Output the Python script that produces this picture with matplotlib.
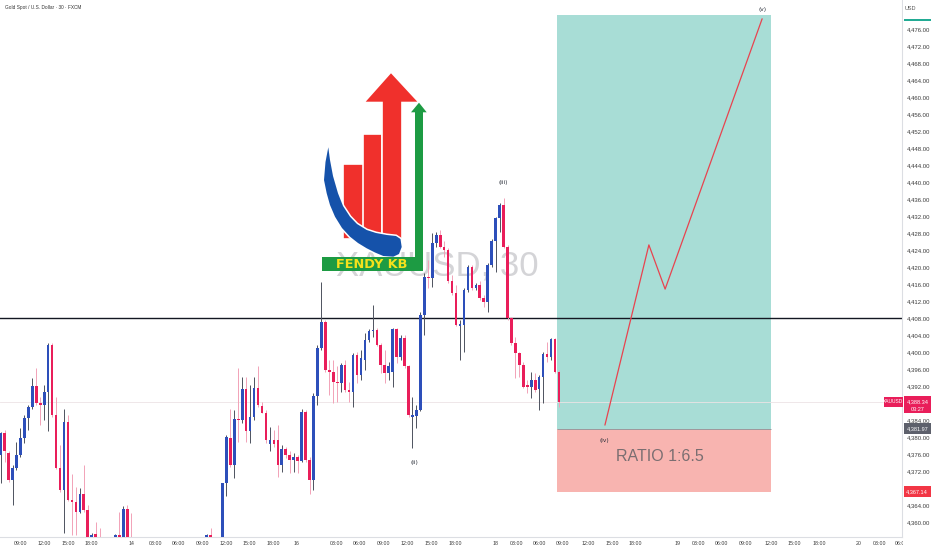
import matplotlib
matplotlib.use('Agg')
import matplotlib.pyplot as plt
import numpy as np
from matplotlib.patches import Polygon, Rectangle
from matplotlib import font_manager

names = {f.name for f in font_manager.fontManager.ttflist}
HAS_NARROW = 'Liberation Sans Narrow' in names
LSANS = 'Liberation Sans' if 'Liberation Sans' in names else 'DejaVu Sans'
NARROW = 'Liberation Sans Narrow' if HAS_NARROW else LSANS

# ---------------- data (XAUUSD 30m, FXCM) ----------------
opens = [4375.8, 4380.9, 4376.2, 4369.9, 4372.6, 4375.8, 4379.7, 4384.4, 4387.0, 4392.0,
         4387.9, 4387.5, 4390.7, 4401.6, 4385.2, 4372.6, 4367.5, 4383.6, 4365.2, 4364.8,
         4362.4, 4366.7, 4362.8, 4354.0, 4357.1, 4354.5, 4352.5, 4350.0, 4352.0, 4353.5,
         4357.0, 4354.0, 4363.0, 4355.0, 4352.0, 4348.0, 4345.0, 4347.0, 4350.0, 4348.0,
         4344.0, 4346.0, 4349.0, 4351.0, 4348.0, 4350.0, 4352.0, 4349.0, 4351.0, 4353.0,
         4350.0, 4352.0, 4354.0, 4356.9, 4355.5, 4351.0, 4353.0, 4369.1, 4379.7, 4373.4,
         4384.2, 4384.0, 4391.2, 4381.3, 4384.8, 4391.5, 4387.3, 4385.7, 4378.4, 4379.3,
         4379.3, 4373.4, 4377.2, 4375.8, 4374.6, 4375.4, 4374.4, 4385.8, 4374.6, 4369.9,
         4389.6, 4400.9, 4407.0, 4395.8, 4395.2, 4393.0, 4392.8, 4396.9, 4391.1, 4390.7,
         4399.3, 4394.6, 4398.1, 4402.8, 4404.9, 4405.2, 4401.7, 4396.9, 4395.0, 4395.4,
         4405.3, 4398.9, 4403.2, 4396.6, 4384.8, 4385.0, 4386.4, 4408.7, 4417.7, 4417.3,
         4425.6, 4427.5, 4424.8, 4424.0, 4416.6, 4413.8, 4406.1, 4406.4, 4414.6, 4420.1,
         4415.0, 4415.8, 4412.6, 4411.8, 4420.5, 4426.0, 4431.5, 4434.6, 4424.8, 4407.9,
         4402.2, 4399.7, 4396.9, 4392.2, 4391.8, 4393.4, 4391.2, 4394.2, 4399.5, 4398.8,
         4403.0, 4395.4]
highs = [4381.2, 4381.6, 4376.6, 4373.4, 4378.9, 4382.0, 4385.2, 4387.5, 4393.8, 4396.2,
         4389.5, 4392.2, 4402.0, 4402.0, 4389.5, 4378.1, 4386.7, 4385.2, 4371.4, 4368.3,
         4367.9, 4373.4, 4364.0, 4357.3, 4360.1, 4358.5, 4355.5, 4354.0, 4355.8, 4357.2,
         4362.4, 4363.8, 4364.0, 4362.0, 4355.0, 4351.0, 4349.0, 4352.0, 4354.0, 4351.0,
         4348.0, 4350.0, 4353.0, 4354.0, 4352.0, 4353.0, 4355.0, 4353.0, 4354.0, 4355.5,
         4354.0, 4355.5, 4357.2, 4358.6, 4356.2, 4355.0, 4369.2, 4380.5, 4386.7, 4386.4,
         4396.2, 4394.2, 4394.2, 4392.2, 4394.2, 4396.6, 4388.3, 4386.4, 4382.4, 4381.6,
         4382.8, 4378.1, 4377.7, 4376.6, 4376.2, 4375.8, 4386.7, 4386.4, 4375.4, 4390.4,
         4401.6, 4416.5, 4407.5, 4398.1, 4398.1, 4396.6, 4397.3, 4398.1, 4393.0, 4399.7,
         4400.1, 4400.5, 4404.4, 4405.3, 4411.1, 4405.6, 4402.0, 4400.5, 4397.7, 4405.6,
         4405.6, 4404.0, 4404.0, 4396.9, 4389.5, 4387.5, 4409.5, 4418.5, 4421.7, 4427.9,
         4428.3, 4428.7, 4426.0, 4424.4, 4418.1, 4415.8, 4407.5, 4415.0, 4420.5, 4420.5,
         4416.2, 4416.6, 4413.4, 4420.9, 4426.7, 4431.8, 4435.0, 4436.2, 4425.2, 4408.3,
         4403.6, 4400.1, 4397.7, 4393.4, 4395.4, 4395.0, 4394.6, 4400.1, 4402.4, 4403.2,
         4403.2, 4395.8]
lows = [4369.1, 4374.2, 4369.5, 4364.0, 4372.2, 4375.4, 4378.5, 4381.6, 4386.7, 4387.5,
        4382.8, 4384.0, 4381.3, 4384.8, 4372.4, 4367.1, 4357.3, 4365.0, 4356.9, 4356.9,
        4362.0, 4362.4, 4352.0, 4351.5, 4352.0, 4350.0, 4348.0, 4346.0, 4349.0, 4350.0,
        4352.0, 4351.0, 4352.0, 4350.0, 4346.0, 4343.0, 4341.0, 4344.0, 4346.0, 4342.0,
        4340.0, 4343.0, 4346.0, 4347.0, 4345.0, 4347.0, 4348.0, 4346.0, 4348.0, 4349.0,
        4347.0, 4349.0, 4351.0, 4352.0, 4349.0, 4348.0, 4350.0, 4366.0, 4373.0, 4370.3,
        4378.9, 4383.2, 4378.9, 4378.5, 4384.0, 4387.1, 4385.6, 4378.5, 4376.6, 4377.7,
        4370.7, 4371.8, 4375.0, 4371.5, 4371.8, 4371.5, 4374.2, 4374.2, 4366.7, 4367.5,
        4387.5, 4400.5, 4395.4, 4389.9, 4387.9, 4388.3, 4390.7, 4390.7, 4388.3, 4387.1,
        4392.6, 4393.4, 4395.8, 4402.4, 4403.6, 4401.3, 4395.0, 4392.6, 4393.4, 4391.8,
        4397.3, 4398.1, 4396.2, 4384.8, 4377.3, 4382.0, 4386.0, 4404.0, 4415.0, 4415.4,
        4424.8, 4424.4, 4422.4, 4416.2, 4413.4, 4406.0, 4398.1, 4400.1, 4414.2, 4414.6,
        4414.6, 4412.2, 4410.7, 4409.5, 4420.1, 4418.9, 4428.3, 4424.4, 4407.5, 4401.7,
        4393.8, 4394.2, 4391.5, 4390.3, 4389.1, 4390.7, 4386.4, 4387.9, 4397.7, 4398.1,
        4395.0, 4387.1]
closes = [4380.9, 4376.6, 4369.9, 4372.6, 4375.8, 4379.7, 4384.4, 4387.0, 4392.0, 4387.9,
          4387.5, 4390.7, 4401.6, 4385.2, 4372.6, 4367.5, 4383.6, 4365.2, 4364.8, 4362.4,
          4366.7, 4362.8, 4354.0, 4357.0, 4354.5, 4352.5, 4350.0, 4352.0, 4353.5, 4357.0,
          4354.0, 4363.0, 4355.0, 4352.0, 4348.0, 4345.0, 4347.0, 4350.0, 4348.0, 4344.0,
          4346.0, 4349.0, 4351.0, 4348.0, 4350.0, 4352.0, 4349.0, 4351.0, 4353.0, 4350.0,
          4352.0, 4354.0, 4356.9, 4355.5, 4351.0, 4353.0, 4369.1, 4380.1, 4373.4, 4384.2,
          4384.0, 4391.2, 4381.3, 4384.8, 4391.5, 4387.5, 4385.7, 4379.3, 4379.3, 4378.4,
          4373.4, 4377.2, 4375.8, 4374.6, 4375.4, 4374.4, 4385.8, 4374.6, 4369.9, 4389.6,
          4400.9, 4407.0, 4395.8, 4395.4, 4392.9, 4392.6, 4396.9, 4391.1, 4390.7, 4399.3,
          4394.6, 4398.5, 4402.8, 4404.9, 4405.2, 4401.7, 4396.9, 4395.0, 4396.6, 4405.3,
          4398.9, 4403.2, 4396.6, 4385.2, 4385.2, 4386.4, 4408.7, 4417.7, 4417.3, 4425.6,
          4427.5, 4424.8, 4424.0, 4416.6, 4413.8, 4406.4, 4406.5, 4414.6, 4420.1, 4415.0,
          4415.8, 4412.6, 4411.8, 4420.5, 4426.0, 4431.5, 4434.6, 4424.8, 4407.9, 4402.0,
          4399.7, 4396.9, 4391.8, 4391.7, 4393.4, 4391.1, 4394.2, 4399.5, 4398.9, 4403.0,
          4395.4, 4388.34]

time_tick_pos = [4.9, 10.95, 17.0, 22.8, 32.9, 39.0, 44.8, 50.9, 56.9, 62.7, 68.8, 74.6,
                 84.7, 90.5, 96.6, 102.6, 108.7, 114.7, 124.8, 130.1, 135.9, 141.8, 148.3,
                 154.4, 160.2, 170.8, 176.1, 181.9, 188.0, 194.3, 200.1, 206.4, 216.5,
                 221.6, 227.1]
time_tick_labels = ['09:00', '12:00', '15:00', '18:00', '14', '03:00', '06:00', '09:00',
                    '12:00', '15:00', '18:00', '16', '03:00', '06:00', '09:00', '12:00',
                    '15:00', '18:00', '18', '03:00', '06:00', '09:00', '12:00', '15:00',
                    '18:00', '19', '03:00', '06:00', '09:00', '12:00', '15:00', '18:00',
                    '20', '03:00', '06:00']
price_ticks = list(range(4360, 4477, 4))

key_level = 4408.0
last_price = 4388.34
countdown = '03:27'
entry_price = 4381.97
target_price = 4479.29
stop_price = 4367.14
box_start = 140.57
box_end = 194.46
ratio_text = 'RATIO 1:6.5'

path_x = [152.6, 163.7, 167.8, 192.3]
path_y = [4382.8, 4425.2, 4414.8, 4478.4]

wave_labels = ['(ii)', '(iii)', '(iv)', '(v)']
wave_x = [104.4, 126.9, 152.4, 192.3]
wave_y = [4373.9, 4439.8, 4379.1, 4480.5]

UP = '#2d4fba'
DOWN = '#e91e5a'
UP_WICK = '#4d525e'
DOWN_WICK = '#f2a2b7'

# ---------------- figure ----------------
W, H = 932, 550
fig = plt.figure(figsize=(W / 100, H / 100), dpi=100)
fig.patch.set_facecolor('white')
ax = fig.add_axes([0, 13 / H, 902 / W, 537 / H])
ax.set_facecolor('white')
ax.set_xlim(-0.162, 227.62)
ax.set_ylim(4356.47, 4482.82)

o = np.array(opens); h = np.array(highs); l = np.array(lows); c = np.array(closes)
idx = np.arange(len(o))
up = c >= o
body_col = np.where(up, UP, DOWN)
wick_col = np.where(up, UP_WICK, DOWN_WICK)
ax.vlines(idx, l, h, colors=wick_col, lw=0.7, zorder=3)
ax.bar(idx, np.maximum(np.abs(c - o), 0.3), bottom=np.minimum(o, c), width=0.66,
       color=body_col, lw=0, zorder=4)

# watermark
wm_fs = 30 if HAS_NARROW else 25
ax.text(110.2, 4420.2, 'XAUUSD, 30', fontsize=wm_fs, color='#d4d4d7', family=NARROW,
        ha='center', va='center', zorder=0.5)

# position tool
ax.add_patch(Rectangle((box_start, entry_price), box_end - box_start, target_price - entry_price,
                       facecolor='#a8ddd6', edgecolor='none', zorder=1))
ax.add_patch(Rectangle((box_start, stop_price), box_end - box_start, entry_price - stop_price,
                       facecolor='#f8b4b0', edgecolor='none', zorder=1))
ax.hlines(entry_price, box_start, box_end, color='#8e9399', lw=0.6, zorder=1.2)

ax.axhline(last_price, color='#ece3e5', lw=0.6, zorder=1.5)
ax.axhline(key_level, color='#131722', lw=1.0, zorder=2.5)

ax.plot(path_x, path_y, color='#e8434f', lw=0.9, zorder=5, solid_capstyle='round')
for t, x, y in zip(wave_labels, wave_x, wave_y):
    ax.text(x, y, t, fontsize=4.2, color='#2a2e39', ha='center', va='center', zorder=6)

r_fs = 14 if HAS_NARROW else 11.5
ax.text(166.6, 4375.3, ratio_text, fontsize=r_fs, family=NARROW, color='#7a6e71',
        ha='center', va='center', zorder=6)

# axes styling
for s in ['top', 'left']:
    ax.spines[s].set_visible(False)
for s in ['right', 'bottom']:
    ax.spines[s].set_color('#dcdee3')
    ax.spines[s].set_linewidth(0.8)
ax.set_xticks([])
ax.yaxis.tick_right()
ax.set_yticks(price_ticks)
ax.set_yticklabels([f'{v:,.2f}' for v in price_ticks])
ax.tick_params(axis='y', length=0, pad=3.2, labelsize=4.3, labelcolor='#3a3a3a')
for lab in ax.get_yticklabels():
    lab.set_family(LSANS)

# time axis strip
axt = fig.add_axes([0, 0, 903 / W, 13 / H])
axt.set_xlim(ax.get_xlim()); axt.set_ylim(0, 1)
axt.set_axis_off()
for p, t in zip(time_tick_pos, time_tick_labels):
    axt.text(p, 0.5, t, fontsize=3.8, family=LSANS, color='#3a3a3a', ha='center',
             va='center', clip_on=True)

# overlay in pixel coords (logo, tags)
lg = fig.add_axes([0, 0, 1, 1])
lg.set_xlim(0, W); lg.set_ylim(H, 0)
lg.set_axis_off()
lg.patch.set_visible(False)
lg.set_zorder(3)

def py(price):
    return H - ax.transData.transform((0, price))[1]

def tag(price, text, color, x0=904, x1=930.5, hh=5.6, z=10):
    y = py(price)
    lg.add_patch(Rectangle((x0, y - hh), x1 - x0, 2 * hh, facecolor=color, edgecolor='none', zorder=z))
    lg.text((x0 + x1) / 2, y + 0.3, text, fontsize=4.0, family=LSANS, color='white',
            ha='center', va='center', zorder=z + 1)

tag(target_price, f'{target_price:,.2f}', '#22ab94')
lg.add_patch(Rectangle((903, 0), 29, 19, facecolor='white', edgecolor='none', zorder=12))
lg.text(905, 9, 'USD', fontsize=4.0, family=LSANS, color='#555555', ha='left', va='center', zorder=13)

yl = py(last_price)
lg.add_patch(Rectangle((904, yl - 5.6), 27, 17.5, facecolor=DOWN, edgecolor='none', zorder=10))
lg.text(917.5, yl + 0.3, f'{last_price:,.2f}', fontsize=4.0, family=LSANS, color='white',
        ha='center', va='center', zorder=11)
lg.text(917.5, yl + 7.6, countdown, fontsize=4.0, family=LSANS, color='white',
        ha='center', va='center', zorder=11)
lg.add_patch(Rectangle((884, yl - 5.0), 18.5, 10.5, facecolor=DOWN, edgecolor='none', zorder=10))
lg.text(893.2, yl + 0.3, 'XAUUSD', fontsize=3.5, family=LSANS, color='white',
        ha='center', va='center', zorder=11)
tag(entry_price, f'{entry_price:,.2f}', '#5d606b')
tag(stop_price, f'{stop_price:,.2f}', '#f23645')

# logo
RED = '#f0302c'; BLUE = '#1552aa'; GREEN = '#1d9b43'
lg.add_patch(Rectangle((343.3, 164.3), 21.5, 75, facecolor=RED, edgecolor='white', lw=1.2, zorder=4))
lg.add_patch(Rectangle((362.7, 134), 19.5, 110, facecolor=RED, edgecolor='white', lw=1.2, zorder=4.1))
lg.add_patch(Rectangle((381.7, 100), 20, 150, facecolor=RED, edgecolor='white', lw=1.2, zorder=4.2))
lg.add_patch(Polygon([(391, 73.3), (365.7, 101.7), (417.3, 101.7)], closed=True,
                     facecolor=RED, edgecolor='none', zorder=4.3))
cres = [(328.3, 147.3), (325.5, 162), (324, 180), (326.7, 193.3), (330, 205), (335, 216.7),
        (342, 228), (350, 236.7), (358, 243), (366.7, 248.3), (375, 252.5), (383.3, 256),
        (393.3, 256.7), (399, 254), (401.7, 247), (400.5, 239), (396, 236), (386.7, 235),
        (376, 233), (366.7, 230), (357, 224), (350, 216.7), (343, 206), (338, 193.3),
        (333, 176), (330, 160)]
lg.add_patch(Polygon(cres, closed=True, facecolor=BLUE, edgecolor='white', lw=2.2, zorder=4.5))
lg.add_patch(Polygon(cres, closed=True, facecolor=BLUE, edgecolor='none', zorder=4.6))
# white strip below crescent to trim bars
lg.add_patch(Rectangle((415, 111), 7.7, 160, facecolor=GREEN, edgecolor='none', zorder=4.7))
lg.add_patch(Polygon([(419, 102.7), (411, 112.3), (426.7, 112.3)], closed=True,
                     facecolor=GREEN, edgecolor='none', zorder=4.7))
lg.add_patch(Rectangle((321.7, 256.7), 101.6, 14, facecolor=GREEN, edgecolor='none', zorder=4.8))
lg.text(372, 264, 'FENDY KB', fontsize=9.3, fontweight='bold', color='#f5e11c',
        ha='center', va='center', zorder=4.9, family='DejaVu Sans')

fig.text(5 / W, 1 - 7.5 / H, 'Gold Spot / U.S. Dollar · 30 · FXCM', fontsize=3.4,
         family=LSANS, color='#333333', ha='left', va='center')

fig.savefig('out.png', dpi=100, facecolor='white')
